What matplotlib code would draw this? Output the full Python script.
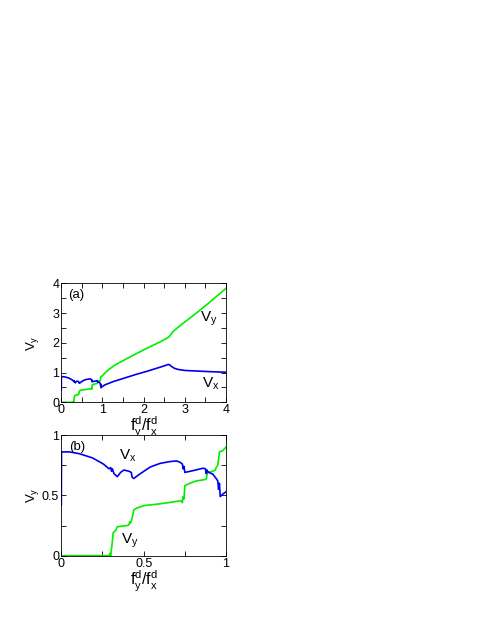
import matplotlib
matplotlib.use('Agg')
import matplotlib.pyplot as plt
import numpy as np
from matplotlib.ticker import MultipleLocator, FuncFormatter

plt.rcParams['font.family'] = ['Liberation Sans', 'DejaVu Sans']
plt.rcParams['mathtext.default'] = 'regular'

# depinning velocities vs f^d_y / f^d_x
vx_f = [0.0, 0.001, 0.05, 0.11, 0.19, 0.255, 0.29, 0.30, 0.305, 0.31, 0.32, 0.34,
        0.36, 0.38, 0.41, 0.425, 0.43, 0.44, 0.48, 0.54, 0.60, 0.66, 0.70, 0.72,
        0.735, 0.74, 0.745, 0.75, 0.80, 0.86, 0.875, 0.88, 0.885, 0.89, 0.92, 0.94,
        0.95, 0.955, 0.96, 0.965, 0.98, 1.0,
        1.05, 1.25, 1.5, 1.8, 2.1, 2.4, 2.6, 2.63, 2.68, 2.75, 2.85, 3.0, 3.3, 3.6, 4.0]
vx = [0.42, 0.86, 0.86, 0.845, 0.81, 0.76, 0.72, 0.73, 0.70, 0.72, 0.68, 0.655,
      0.69, 0.71, 0.70, 0.69, 0.65, 0.64, 0.68, 0.735, 0.765, 0.78, 0.785, 0.775,
      0.76, 0.72, 0.74, 0.69, 0.705, 0.725, 0.72, 0.68, 0.71, 0.695, 0.675, 0.64,
      0.62, 0.55, 0.60, 0.49, 0.51, 0.53,
      0.58, 0.69, 0.80, 0.93, 1.05, 1.18, 1.27, 1.26, 1.20, 1.14, 1.10, 1.07, 1.05, 1.03, 1.01]

vy_f = [0.0, 0.29, 0.295, 0.30, 0.305, 0.31, 0.315, 0.33, 0.34, 0.37, 0.40, 0.41,
        0.415, 0.42, 0.43, 0.44, 0.46, 0.50, 0.60, 0.70, 0.73, 0.735, 0.74, 0.745,
        0.75, 0.78, 0.82, 0.87, 0.88, 0.885, 0.89, 0.92, 0.935, 0.94, 0.95, 0.955,
        0.96, 0.98, 1.0,
        1.05, 1.15, 1.3, 1.5, 1.8, 2.1, 2.4, 2.6, 2.63, 2.7, 2.8, 3.0, 3.3, 3.6, 4.0]
vy = [0.0, 0.0, 0.02, 0.0, 0.06, 0.12, 0.19, 0.21, 0.24, 0.245, 0.25, 0.255,
      0.28, 0.27, 0.31, 0.38, 0.395, 0.415, 0.43, 0.45, 0.455, 0.44, 0.49, 0.47,
      0.58, 0.60, 0.62, 0.63, 0.635, 0.67, 0.69, 0.70, 0.71, 0.73, 0.75, 0.80,
      0.86, 0.87, 0.90,
      0.97, 1.10, 1.25, 1.40, 1.62, 1.83, 2.03, 2.18, 2.22, 2.36, 2.48, 2.70, 3.02, 3.36, 3.83]

GREEN = '#00ee00'
BLUE = '#0000ee'


def set_axes(ax, step):
    ax.xaxis.set_major_locator(MultipleLocator(2 * step))
    ax.xaxis.set_minor_locator(MultipleLocator(step))
    ax.yaxis.set_major_locator(MultipleLocator(2 * step))
    ax.yaxis.set_minor_locator(MultipleLocator(step))
    ax.xaxis.set_major_formatter(FuncFormatter(lambda v, p: '%g' % v))
    ax.yaxis.set_major_formatter(FuncFormatter(lambda v, p: '%g' % v))
    ax.tick_params(which='both', direction='in', top=True, right=True,
                   length=3.5, width=0.6, labelsize=9, pad=1.5)
    for s in ax.spines.values():
        s.set_linewidth(0.6)
    ax.set_ylabel(r'$V_y$', fontsize=9.5)
    ax.yaxis.set_label_coords(-0.125, 0.5)
    ax.set_xlabel(r'$f^d_y/f^d_x$', fontsize=11.5, labelpad=-1)


def plot_curves(ax):
    ax.plot(vy_f, vy, color=GREEN, lw=1.2)
    ax.plot(vx_f, vx, color=BLUE, lw=1.2)


fig = plt.figure(figsize=(4.85, 6.27), dpi=100)

ax1 = fig.add_axes([0.1264, 0.3584, 0.3396, 0.1898])
plot_curves(ax1)
ax1.set_xlim(0, 4)
ax1.set_ylim(0, 4)
set_axes(ax1, 0.5)
ax1.text(0.16, 3.5, '(a)', fontsize=9.5)
ax1.text(3.37, 2.7, r'$V_y$', fontsize=11)
ax1.text(3.41, 0.5, r'$V_x$', fontsize=11)

ax2 = fig.add_axes([0.1264, 0.1137, 0.3396, 0.1925])
plot_curves(ax2)
ax2.set_xlim(0, 1)
ax2.set_ylim(0, 1)
set_axes(ax2, 0.25)
ax2.text(0.045, 0.875, '(b)', fontsize=9.5)
ax2.text(0.35, 0.80, r'$V_x$', fontsize=11)
ax2.text(0.36, 0.10, r'$V_y$', fontsize=11)

plt.savefig('out.png', dpi=100)
